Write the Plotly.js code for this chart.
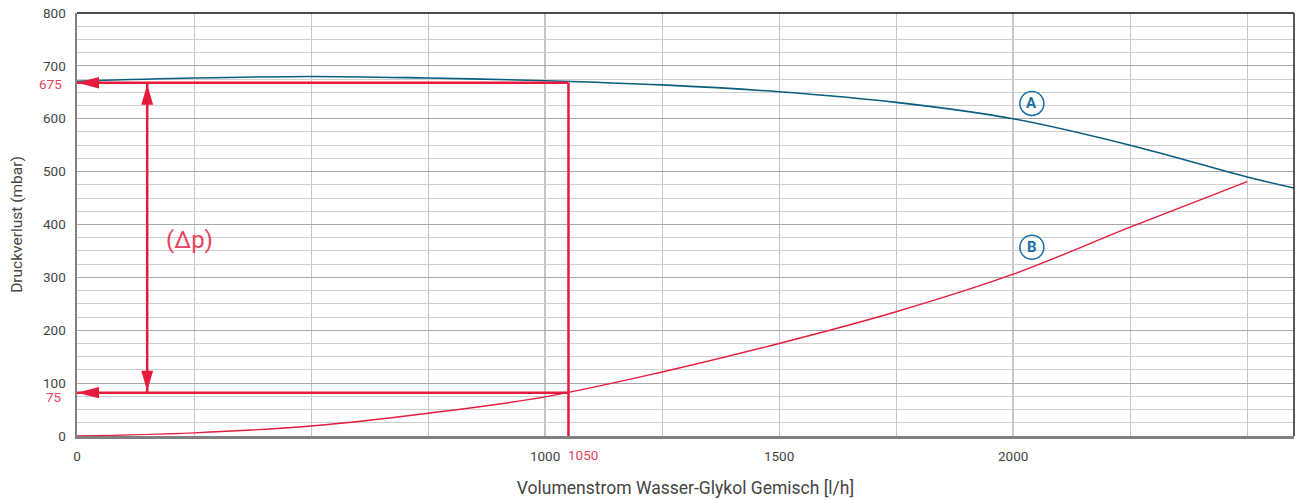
<!DOCTYPE html>
<html>
<head>
<meta charset="utf-8">
<script src="https://cdn.plot.ly/plotly-3.0.1.min.js"></script>
<style>html,body{margin:0;padding:0;background:#fff;}</style>
</head>
<body>
<div id="chart" style="width:1300px;height:500px;"></div>
<script>
// Curve A
const flowA = [0, 250, 500, 750, 1000, 1250, 1500, 1750, 2000, 2250, 2500, 2600];
const pressureA = [671, 677, 680, 677, 672, 664, 651, 631, 600, 550, 490, 469];
// Curve B
const flowB = [0, 250, 500, 750, 1000, 1250, 1500, 1750, 2000, 2250, 2500];
const pressureB = [0, 6, 19, 43, 74, 121, 175, 235, 306, 395, 481];
// Operating point reading
const opFlow = 1050;
const opPressureA = 668;
const opPressureB = 82;
const deltaFlow = 150;
const opLabels = ['1050', '675', '75'];
const deltaLabel = '(Δp)';
// Curve labels
const curveNames = ['A', 'B'];
const curveLabelX = [2040, 2040];
const curveLabelY = [629, 357];
// Ticks
const xTickVals = [0, 1000, 1500, 2000];
const xTickText = ['0', '1000', '1500', '2000'];
const xMajorGrid = [1000, 2000];
const yTickVals = [0, 100, 200, 300, 400, 500, 600, 700, 800];
const yTickText = ['0', '100', '200', '300', '400', '500', '600', '700', '800'];

const RED = '#e61b3d';
const RED_TXT = '#e8435f';
const BLUE = '#0b5e80';
const LBL_BLUE = '#1b6fa5';
const FONT = 'Roboto, "DejaVu Sans", sans-serif';

const traces = [
  {x: flowA, y: pressureA, mode: 'lines', line: {color: BLUE, width: 1.6, shape: 'spline', smoothing: 1}, hoverinfo: 'x+y', showlegend: false},
  {x: flowB, y: pressureB, mode: 'lines', line: {color: RED, width: 1.4, shape: 'spline', smoothing: 1}, hoverinfo: 'x+y', showlegend: false}
];

const shapes = [];
xMajorGrid.forEach(v => shapes.push({type: 'line', xref: 'x', yref: 'paper', x0: v, x1: v, y0: 0, y1: 1, line: {color: '#8c8c8c', width: 1.2}, layer: 'below'}));
// borders
shapes.push({type: 'line', xref: 'paper', yref: 'paper', x0: 0, x1: 1, y0: 1, y1: 1, line: {color: '#111', width: 1.5}});
shapes.push({type: 'line', xref: 'paper', yref: 'paper', x0: 1, x1: 1, y0: 0, y1: 1, line: {color: '#222', width: 1.5}});
// operating lines
const redLine = {color: RED, width: 2.5};
shapes.push({type: 'line', xref: 'x', yref: 'y', x0: 0, x1: opFlow, y0: opPressureA, y1: opPressureA, line: redLine});
shapes.push({type: 'line', xref: 'x', yref: 'y', x0: 0, x1: opFlow, y0: opPressureB, y1: opPressureB, line: redLine});
shapes.push({type: 'line', xref: 'x', yref: 'y', x0: opFlow, x1: opFlow, y0: 0, y1: opPressureA, line: redLine});
shapes.push({type: 'line', xref: 'x', yref: 'y', x0: deltaFlow, x1: deltaFlow, y0: opPressureB, y1: opPressureA, line: redLine});
// arrowheads (pixel-sized)
const headLeft = 'M0,0 L22,5.7 L22,-5.7 Z';
const headUp = 'M0,-1.5 L-5.9,-22 L5.9,-22 Z';
const headDown = 'M0,1.5 L-5.9,22 L5.9,22 Z';
[opPressureA, opPressureB].forEach(p => shapes.push({type: 'path', xref: 'x', yref: 'y', xsizemode: 'pixel', ysizemode: 'pixel', xanchor: 0, yanchor: p, path: headLeft, fillcolor: RED, line: {width: 0}}));
shapes.push({type: 'path', xref: 'x', yref: 'y', xsizemode: 'pixel', ysizemode: 'pixel', xanchor: deltaFlow, yanchor: opPressureA, path: headUp, fillcolor: RED, line: {width: 0}});
shapes.push({type: 'path', xref: 'x', yref: 'y', xsizemode: 'pixel', ysizemode: 'pixel', xanchor: deltaFlow, yanchor: opPressureB, path: headDown, fillcolor: RED, line: {width: 0}});
// curve label circles
curveNames.forEach((n, i) => shapes.push({type: 'circle', xref: 'x', yref: 'y', xsizemode: 'pixel', ysizemode: 'pixel', xanchor: curveLabelX[i], yanchor: curveLabelY[i], x0: -12, x1: 12, y0: -12, y1: 12, line: {color: LBL_BLUE, width: 1.5}, fillcolor: 'rgba(255,255,255,0)'}));

const annotations = [];
annotations.push({xref: 'x', yref: 'paper', x: opFlow, y: 0, xanchor: 'left', yanchor: 'middle', xshift: -2, yshift: -19, text: opLabels[0], showarrow: false, font: {family: FONT, size: 13.5, color: RED_TXT}});
annotations.push({xref: 'paper', yref: 'y', x: 0, y: opPressureA, xanchor: 'right', yanchor: 'middle', xshift: -13, yshift: -1, text: opLabels[1], showarrow: false, font: {family: FONT, size: 13.5, color: RED_TXT}});
annotations.push({xref: 'paper', yref: 'y', x: 0, y: opPressureB, xanchor: 'right', yanchor: 'middle', xshift: -13, yshift: -4, text: opLabels[2], showarrow: false, font: {family: FONT, size: 13.5, color: RED_TXT}});
annotations.push({xref: 'x', yref: 'y', x: 241, y: 370, xanchor: 'center', yanchor: 'middle', text: deltaLabel, showarrow: false, font: {family: FONT, size: 24, color: RED_TXT}});
curveNames.forEach((n, i) => annotations.push({xref: 'x', yref: 'y', x: curveLabelX[i], y: curveLabelY[i], xanchor: 'center', yanchor: 'middle', text: '<b>' + n + '</b>', showarrow: false, font: {family: FONT, size: 15, color: LBL_BLUE}}));

const layout = {
  width: 1300, height: 500,
  margin: {l: 77, r: 6, t: 13, b: 64},
  paper_bgcolor: '#fff', plot_bgcolor: '#fff',
  font: {family: FONT, color: '#444'},
  showlegend: false,
  xaxis: {
    range: [0, 2600], tickmode: 'array', tickvals: xTickVals, ticktext: xTickText,
    showgrid: false, zeroline: false, showline: true, linecolor: '#808080', linewidth: 2.5,
    ticks: '', tickfont: {family: FONT, size: 13.5, color: '#444'}, ticklabelstandoff: 6,
    minor: {tick0: 0, dtick: 250, showgrid: true, gridcolor: '#c6c6c6', gridwidth: 1, ticks: ''},
    title: {text: 'Volumenstrom Wasser-Glykol Gemisch [l/h]', font: {family: FONT, size: 17.5, color: '#444'}, standoff: 19}
  },
  yaxis: {
    range: [0, 800], tickmode: 'array', tickvals: yTickVals, ticktext: yTickText,
    showgrid: true, gridcolor: '#a8a8a8', gridwidth: 1.2, zeroline: false,
    showline: true, linecolor: '#808080', linewidth: 2.5,
    ticks: '', tickfont: {family: FONT, size: 13.5, color: '#444'}, ticklabelstandoff: 6,
    minor: {tick0: 0, dtick: 25, showgrid: true, gridcolor: '#cfcfcf', gridwidth: 1, ticks: ''},
    title: {text: 'Druckverlust (mbar)', font: {family: FONT, size: 15.5, color: '#444'}, standoff: 17}
  },
  shapes: shapes,
  annotations: annotations
};

Plotly.newPlot('chart', traces, layout, {displayModeBar: false, staticPlot: true});
</script>
</body>
</html>
